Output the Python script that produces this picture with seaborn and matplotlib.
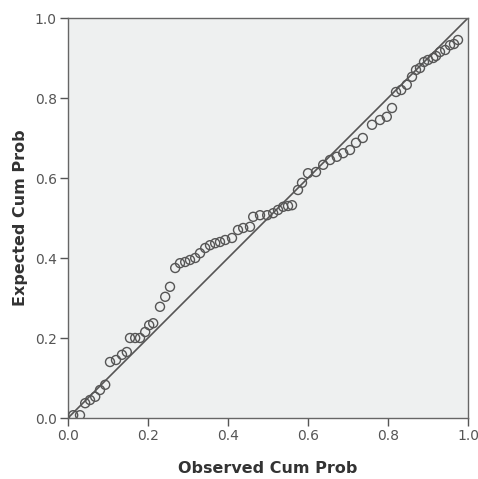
# plot.py
# Normal P-P plot: observed vs expected cumulative probability.

import matplotlib
matplotlib.use('Agg')
import matplotlib.pyplot as plt
import seaborn as sns
import pandas as pd

observed = [0.013, 0.03, 0.043, 0.055, 0.068, 0.08, 0.093, 0.105, 0.12, 0.135,
            0.147, 0.155, 0.168, 0.18, 0.193, 0.203, 0.213, 0.23, 0.243, 0.255,
            0.268, 0.28, 0.293, 0.305, 0.318, 0.33, 0.343, 0.355, 0.368, 0.38,
            0.393, 0.41, 0.425, 0.438, 0.455, 0.463, 0.48, 0.498, 0.513, 0.525,
            0.538, 0.55, 0.56, 0.575, 0.585, 0.60, 0.62, 0.638, 0.655, 0.672,
            0.688, 0.705, 0.72, 0.737, 0.76, 0.78, 0.797, 0.81, 0.82, 0.833,
            0.847, 0.86, 0.87, 0.88, 0.89, 0.90, 0.913, 0.92, 0.93, 0.943,
            0.955, 0.965, 0.975]
expected = [0.007, 0.007, 0.037, 0.045, 0.053, 0.07, 0.083, 0.14, 0.145, 0.158,
            0.165, 0.2, 0.2, 0.2, 0.215, 0.232, 0.237, 0.278, 0.303, 0.328,
            0.375, 0.387, 0.39, 0.395, 0.40, 0.412, 0.425, 0.432, 0.437, 0.44,
            0.445, 0.45, 0.47, 0.475, 0.478, 0.503, 0.507, 0.507, 0.512, 0.52,
            0.528, 0.53, 0.532, 0.57, 0.588, 0.612, 0.615, 0.633, 0.645, 0.653,
            0.662, 0.67, 0.688, 0.70, 0.733, 0.745, 0.753, 0.775, 0.815, 0.82,
            0.833, 0.853, 0.87, 0.875, 0.89, 0.895, 0.90, 0.905, 0.915, 0.92,
            0.932, 0.935, 0.945]
ref_line = [0.0, 1.0]
ticks = [0.0, 0.2, 0.4, 0.6, 0.8, 1.0]

df = pd.DataFrame({'observed': observed, 'expected': expected})

sns.set_style('ticks')
plt.rcParams['font.family'] = ['DejaVu Sans']

fig = plt.figure(figsize=(4.78, 4.79), dpi=100)
ax = fig.add_axes([68 / 478, 61 / 479, 400 / 478, 400 / 479])
ax.set_facecolor('#eef0f0')

ax.plot(ref_line, ref_line, color='#555555', linewidth=1.2, zorder=2)
sns.scatterplot(data=df, x='observed', y='expected', ax=ax, marker='o', s=42,
                facecolor='none', edgecolor='#555555', linewidth=1.0, zorder=3)

ax.set_xlim(0, 1)
ax.set_ylim(0, 1)
ax.set_xticks(ticks)
ax.set_yticks(ticks)
ax.set_xticklabels([f'{t:.1f}' for t in ticks])
ax.set_yticklabels([f'{t:.1f}' for t in ticks])
ax.tick_params(direction='out', length=6, width=1.0, color='#555555',
               labelcolor='#555555', labelsize=10, pad=2)
for side in ['left', 'right', 'top', 'bottom']:
    ax.spines[side].set_visible(True)
    ax.spines[side].set_color('#666666')
    ax.spines[side].set_linewidth(1.0)

ax.set_xlabel('Observed Cum Prob', fontsize=11.5, fontweight='bold',
              color='#333333', labelpad=13)
ax.set_ylabel('Expected Cum Prob', fontsize=11.5, fontweight='bold',
              color='#333333', labelpad=5)

fig.savefig('out.png', dpi=100)
plt.close(fig)
